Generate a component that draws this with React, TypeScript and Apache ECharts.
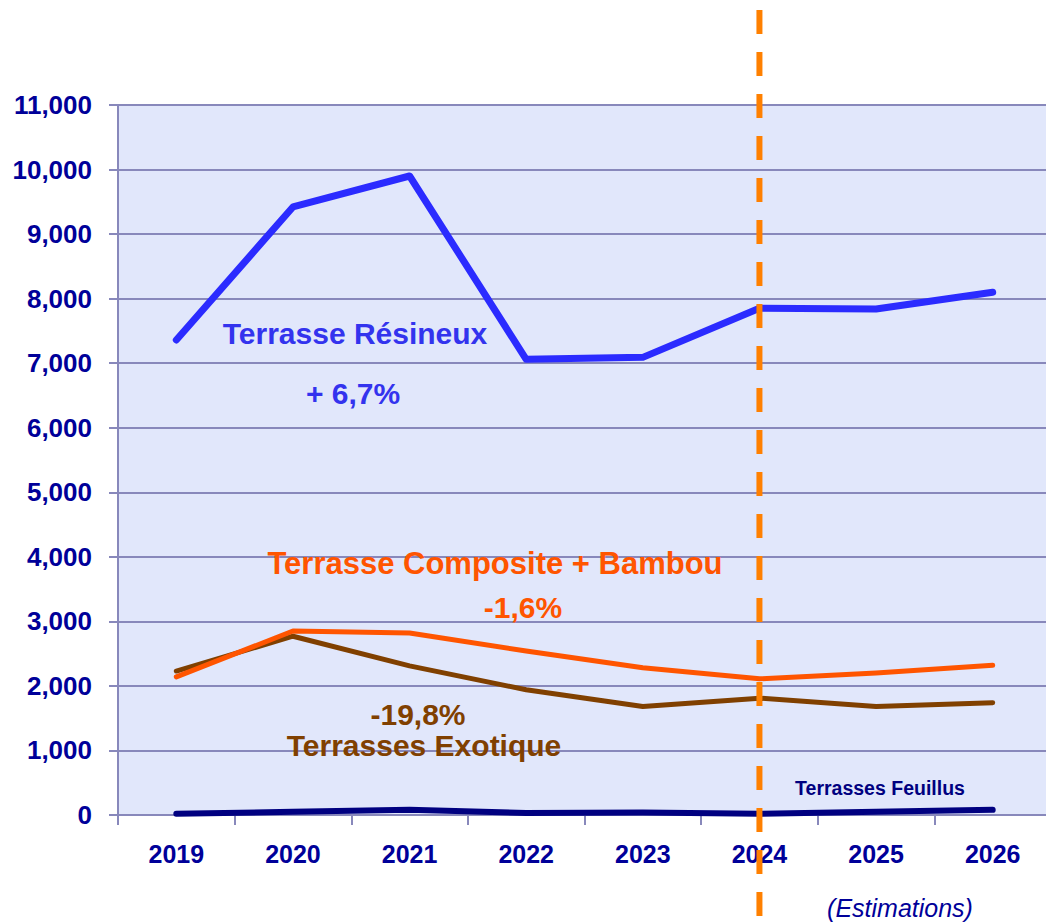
import React, { useEffect, useRef } from "react";
import * as echarts from "echarts";

const years = ["2019", "2020", "2021", "2022", "2023", "2024", "2025", "2026"];
const resineux = [7360, 9420, 9900, 7060, 7090, 7850, 7840, 8100];
const composite = [2140, 2850, 2820, 2540, 2280, 2110, 2200, 2320];
const exotique = [2230, 2770, 2310, 1940, 1680, 1810, 1680, 1740];
const feuillus = [20, 50, 80, 30, 40, 20, 50, 80];
const yTicks = { min: 0, max: 11000, interval: 1000 };
const estimateYear = "2024";

const FONT = "Liberation Sans";
const AXIS = "#8888BB";
const NAVY = "#000099";

export default function App() {
  const ref = useRef<HTMLDivElement>(null);
  useEffect(() => {
    if (!ref.current) return;
    document.body.style.overflow = "hidden";
    const chart = echarts.init(ref.current, null, { renderer: "svg" });
    const lineSeries = (name: string, data: number[], color: string, width: number) => ({
      name,
      type: "line",
      data,
      symbol: "none",
      lineStyle: { color, width, cap: "round", join: "round" },
      z: 3,
    });
    chart.setOption({
      animation: false,
      backgroundColor: "#ffffff",
      grid: {
        left: 118,
        top: 105,
        bottom: 107,
        right: 0,
        show: true,
        backgroundColor: "#E1E7FB",
        borderWidth: 0,
      },
      xAxis: {
        type: "category",
        data: years,
        boundaryGap: true,
        axisLine: { show: true, lineStyle: { color: AXIS, width: 2 } },
        axisTick: { show: true, length: 10, lineStyle: { color: AXIS, width: 2 } },
        axisLabel: {
          color: NAVY,
          fontFamily: FONT,
          fontWeight: "bold",
          fontSize: 25,
          margin: 26,
        },
      },
      yAxis: {
        type: "value",
        min: yTicks.min,
        max: yTicks.max,
        interval: yTicks.interval,
        axisLine: { show: true, lineStyle: { color: AXIS, width: 2 } },
        axisTick: { show: true, length: 9, lineStyle: { color: AXIS, width: 2 } },
        splitLine: { show: true, lineStyle: { color: AXIS, width: 2 } },
        axisLabel: {
          color: NAVY,
          fontFamily: FONT,
          fontWeight: "bold",
          fontSize: 26,
          margin: 26,
          formatter: (v: number) => v.toLocaleString("en-US"),
        },
      },
      series: [
        lineSeries("Terrasses Feuillus", feuillus, "#000080", 6),
        lineSeries("Terrasses Exotique", exotique, "#804000", 5),
        lineSeries("Terrasse Composite + Bambou", composite, "#FF5500", 5),
        lineSeries("Terrasse Résineux", resineux, "#2B2BFF", 7),
      ],
    });
    const xDash = chart.convertToPixel({ xAxisIndex: 0 }, estimateYear) as number;
    const txt = (text: string, x: number, y: number, color: string, size: number) => ({
      type: "text",
      x,
      y,
      z: 10,
      style: {
        text,
        fill: color,
        font: `bold ${size}px "${FONT}"`,
        textAlign: "center",
        textVerticalAlign: "middle",
      },
    });
    chart.setOption({
      graphic: [
        {
          type: "line",
          z: 20,
          shape: { x1: xDash, y1: 10, x2: xDash, y2: 922 },
          style: { stroke: "#FF8000", lineWidth: 6, lineDash: [24, 18] },
        },
        txt("Terrasse Résineux", 355, 333, "#3333EE", 30),
        txt("+ 6,7%", 353, 393, "#3333EE", 30),
        txt("Terrasse Composite + Bambou", 495, 563, "#FF5500", 31),
        txt("-1,6%", 523, 607, "#FF5500", 30),
        txt("-19,8%", 418, 714, "#804000", 30),
        txt("Terrasses Exotique", 424, 745, "#804000", 30),
        txt("Terrasses Feuillus", 880, 788, "#000080", 19.5),
        {
          type: "text",
          x: 900,
          y: 908,
          z: 10,
          style: {
            text: "(Estimations)",
            fill: NAVY,
            font: `italic 25px "${FONT}"`,
            textAlign: "center",
            textVerticalAlign: "middle",
          },
        },
      ],
    });
    return () => chart.dispose();
  }, []);
  return (
    <div
      ref={ref}
      style={{ position: "fixed", left: 0, top: 0, width: 1051, height: 922 }}
    />
  );
}
